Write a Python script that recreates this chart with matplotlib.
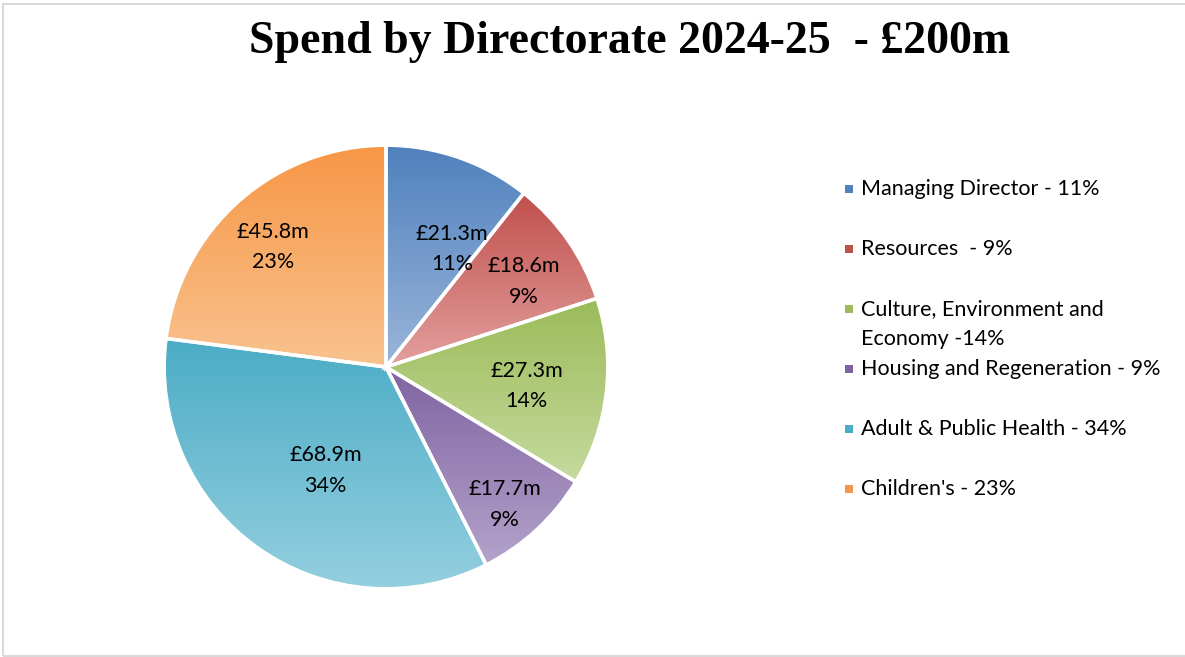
import numpy as np
import matplotlib
matplotlib.use("Agg")
import matplotlib.pyplot as plt
from matplotlib.colors import LinearSegmentedColormap
from matplotlib.patches import Rectangle

# data
directorates = ["Managing Director - 11%", "Resources  - 9%",
                "Culture, Environment and\nEconomy -14%",
                "Housing and Regeneration - 9%",
                "Adult & Public Health - 34%", "Children's - 23%"]
spend = [21.3, 18.6, 27.3, 17.7, 68.9, 45.8]
pct_labels = ["11%", "9%", "14%", "9%", "34%", "23%"]

# gradient colours, top -> bottom
top_cols = ["#4F81BD", "#C0504D", "#9BBB59", "#8064A2", "#4BACC6", "#F79646"]
bot_cols = ["#9AB5DA", "#E3A09E", "#C6DA9E", "#B3A3CA", "#94CFDF", "#F9C38F"]
# label placement tweaks (layout only): radius fraction, angle offset in deg
label_r = [0.61, 0.73, 0.64, 0.82, 0.54, 0.745]
label_dang = [-10, -3, -1, -2, 5, 2]

plt.rcParams["font.family"] = ["Lato", "DejaVu Sans"]

fig = plt.figure(figsize=(11.85, 6.57), dpi=100)
W, H = 1185, 657

# light border
fig.patches.append(Rectangle((3 / W, 1 / H), 1.2, (H - 5) / H, transform=fig.transFigure,
                             fill=False, edgecolor="#D9D9D9", linewidth=1.5))

cx, cy, r = 386, 367, 224
ax = fig.add_axes([(cx - r) / W, (H - cy - r) / H, 2 * r / W, 2 * r / H])
ax.axis("off")

wedges, _ = ax.pie(spend, startangle=90, counterclock=False, radius=1,
                   wedgeprops=dict(edgecolor="white", linewidth=2.5))

grad = np.linspace(0, 1, 256).reshape(-1, 1)
for w, c1, c2, rr, da, val, pct in zip(wedges, top_cols, bot_cols, label_r, label_dang,
                                       spend, pct_labels):
    w.set_facecolor("none")
    ext = w.get_path().get_extents()
    cmap = LinearSegmentedColormap.from_list("g", [c1, c2])
    im = ax.imshow(grad, cmap=cmap, aspect="auto", origin="upper",
                   extent=[ext.x0, ext.x1, ext.y0, ext.y1], zorder=0.5)
    im.set_clip_path(w)
    w.set_zorder(1)
    ang = np.deg2rad((w.theta1 + w.theta2) / 2 + da)
    ax.text(rr * np.cos(ang), rr * np.sin(ang), "£%.1fm\n%s" % (val, pct),
            ha="center", va="center", fontsize=15.5, linespacing=1.65, zorder=3)
ax.set_xlim(-1.01, 1.01)
ax.set_ylim(-1.01, 1.01)

fig.text(630 / W, 1 - 42 / H, "Spend by Directorate 2024-25  - £200m",
         ha="center", va="center", fontsize=33, fontweight="bold",
         family=["Liberation Serif", "DejaVu Serif"])

# legend drawn in fixed slots, as in the original
slot0, slot_h = 189, 60
for i, (lab, c1) in enumerate(zip(directorates, top_cols)):
    y = slot0 + slot_h * i
    fig.patches.append(Rectangle((845 / W, 1 - (y + 4) / H), 8 / W, 8 / H,
                                 transform=fig.transFigure, facecolor=c1, edgecolor="none"))
    fig.text(861 / W, 1 - (y - 10) / H, lab, ha="left", va="top", fontsize=15.5,
             linespacing=1.62)

fig.savefig("out.png", dpi=100)
